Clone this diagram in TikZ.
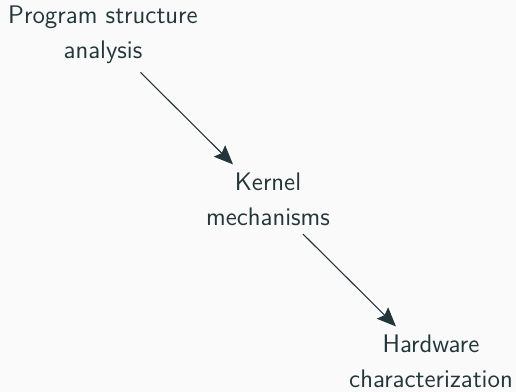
\documentclass[tikz,border=0pt]{standalone}
\usepackage{fontspec}
\usetikzlibrary{arrows.meta}
\definecolor{mdark}{HTML}{23373B}
\definecolor{mbg}{HTML}{FAFAFA}
\tikzset{
  lbl/.style={align=center, inner sep=4pt, anchor=north, text=mdark,
    font=\fontsize{12.7pt}{17.5pt}\selectfont\sffamily},
  conn/.style={draw=mdark, line width=0.55pt,
    -{Stealth[length=9.5pt, width=8pt, inset=1.5pt]}}
}
\begin{document}
\begin{tikzpicture}[x=0.5pt, y=-0.5pt]
  \fill[mbg] (0,0) rectangle (516,392);
  \useasboundingbox (0,0) rectangle (516,392);
  \node[lbl] (psa) at (103,-2.2) {Program structure\\analysis};
  \node[lbl] (km) at (268,164.4) {Kernel\\mechanisms};
  \node[lbl] (hc) at (431,326.4) {Hardware\\characterization};
  \draw[conn] (psa) -- (km);
  \draw[conn] (km) -- (hc);
\end{tikzpicture}
\end{document}
